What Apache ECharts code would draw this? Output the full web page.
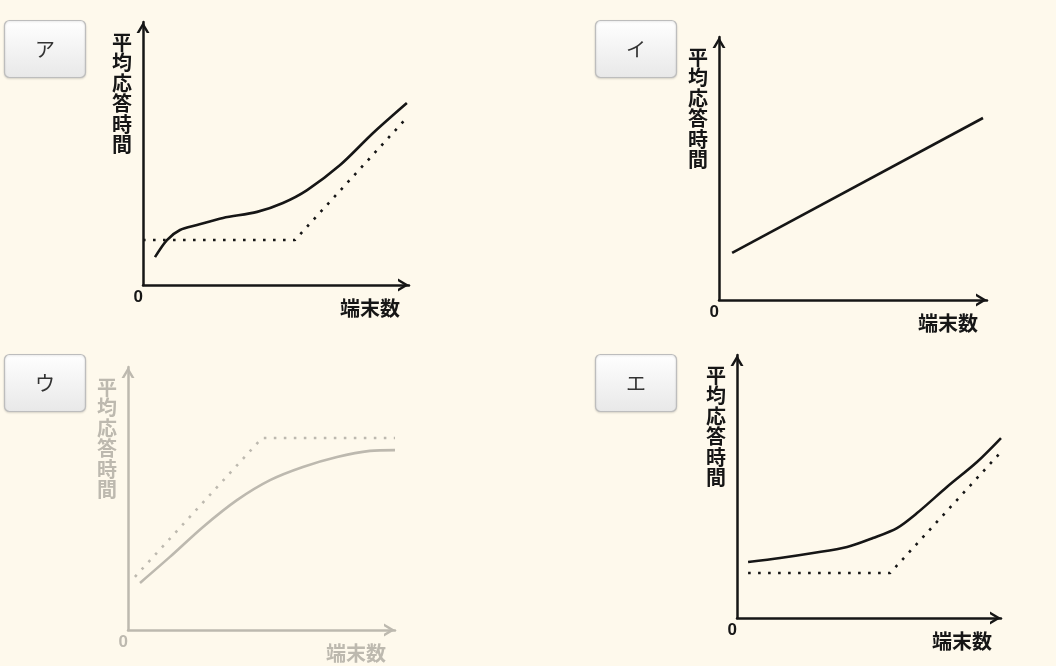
<!DOCTYPE html>
<html><head><meta charset="utf-8">
<script src="https://cdn.jsdelivr.net/npm/echarts@6/dist/echarts.min.js"></script>
<style>html,body{margin:0;padding:0;background:#fef9ec;}#c{width:1056px;height:666px;}</style>
</head><body><div id="c"></div>
<script>
// ---- data (axis units 0..100) ----
const panelLabels = ['ア', 'イ', 'ウ', 'エ'];
const yAxisTitle = '平均応答時間';
const xAxisTitle = '端末数';
const originLabel = '0';

const curveA = [[4.5,10.6],[9.0,17.1],[13.9,20.9],[20.3,22.8],[30.1,25.5],[42.9,27.8],[52.6,31.2],[61.7,36.1],[74.1,45.6],[86.5,57.8],[99.2,69.2]];
const boundA = [[0,17.1],[57.1,17.1],[98.1,62.4]];
const lineB  = [[4.9,17.9],[98.5,69.2]];
const curveC = [[4.5,17.9],[15.7,27.8],[28.1,39.2],[40.8,49.4],[53.2,57.0],[65.5,62.0],[78.3,65.8],[90.6,68.1],[100,68.4]];
const boundC = [[2.6,20.2],[50.2,73.0],[100,73.0]];
const curveD = [[4.2,21.3],[16.3,22.8],[28.8,24.7],[41.7,27.0],[51.5,30.4],[60.6,34.2],[68.2,39.9],[79.5,49.8],[90.9,59.3],[100,68.4]];
const boundD = [[4.2,17.1],[58.0,17.1],[99.6,62.7]];

// ---- layout ----
const grids = [
  {left:143, top:22,  width:266, height:263},
  {left:719, top:37,  width:268, height:263},
  {left:128, top:367, width:267, height:263},
  {left:737, top:355, width:264, height:263}
];
const buttons = [
  {x:4.5, y:20.5, w:81, h:57},
  {x:595.5, y:20.5, w:81, h:57},
  {x:4.5, y:354.5, w:81, h:57},
  {x:595.5, y:354.5, w:81, h:57}
];
const INK = '#161616';
const FADED = '#bdb9af';
const panelColor = [INK, INK, FADED, INK];
const chevron = 'path://M0,11 L6.5,0 L13,11 L10.2,11 L6.5,4.8 L2.8,11 Z';
const vertical = yAxisTitle.split('').join('\n');

const xAxes = [], yAxes = [];
grids.forEach((g, i) => {
  const col = panelColor[i];
  const axisLine = {show:true, lineStyle:{color:col, width:2.5}, symbol:['none', chevron], symbolSize:[13,11], symbolOffset:[0,-5.5]};
  xAxes.push({
    type:'value', gridIndex:i, min:0, max:100, interval:100,
    axisLine, axisTick:{show:false}, splitLine:{show:false},
    axisLabel:{show:true, formatter:v => v === 0 ? originLabel : '', align:'right', verticalAlign:'top', margin:4,
      color:col, fontSize:17, fontWeight:'bold', fontFamily:'Liberation Sans'},
    name:xAxisTitle, nameLocation:'end', nameGap:-9,
    nameTextStyle:{align:'right', verticalAlign:'top', padding:[13,0,0,0], color:col, fontSize:20, fontWeight:'bold', fontFamily:'Noto Sans CJK JP'}
  });
  yAxes.push({
    type:'value', gridIndex:i, min:0, max:100, interval:100,
    axisLine, axisTick:{show:false}, splitLine:{show:false}, axisLabel:{show:false},
    name:vertical, nameLocation:'end', nameGap:-10,
    nameTextStyle:{align:'right', verticalAlign:'top', padding:[0,11,0,0], lineHeight:20.5, color:col, fontSize:20, fontWeight:'bold', fontFamily:'Noto Sans CJK JP'}
  });
});

function solid(data, i, smooth){
  return {type:'line', xAxisIndex:i, yAxisIndex:i, data, smooth:smooth, symbol:'none', silent:true,
    lineStyle:{color:panelColor[i], width:2.6}};
}
function dotted(data, i){
  return {type:'line', xAxisIndex:i, yAxisIndex:i, data, smooth:false, symbol:'none', silent:true,
    lineStyle:{color:panelColor[i], width:2.6, type:[2.6,7.4]}};
}
const series = [
  dotted(boundA,0), solid(curveA,0,0.3),
  solid(lineB,1,false),
  dotted(boundC,2), solid(curveC,2,0.3),
  dotted(boundD,3), solid(curveD,3,0.3)
];

const graphic = buttons.map((b, i) => ({
  type:'group', x:b.x, y:b.y, opacity: i === 2 ? 0.35 : 1,
  children:[
    {type:'rect', shape:{x:0, y:0, width:b.w, height:b.h, r:5},
     style:{fill:new echarts.graphic.LinearGradient(0,0,0,1,[{offset:0,color:'#ffffff'},{offset:1,color:'#e8e8e8'}]), stroke:'#bdbdbd', lineWidth:1.2,
       shadowColor:'rgba(0,0,0,0.12)', shadowBlur:2, shadowOffsetY:1}},
    {type:'text', x:b.w/2, y:b.h/2, style:{text:panelLabels[i], fill:'#333', fontSize:20, fontFamily:'Noto Sans CJK JP', align:'center', verticalAlign:'middle'}}
  ]
}));

const chart = echarts.init(document.getElementById('c'));
chart.setOption({
  backgroundColor:'#fef9ec',
  animation:false,
  grid:grids.map(g => Object.assign({containLabel:false}, g)),
  xAxis:xAxes, yAxis:yAxes, series, graphic
});
</script></body></html>
